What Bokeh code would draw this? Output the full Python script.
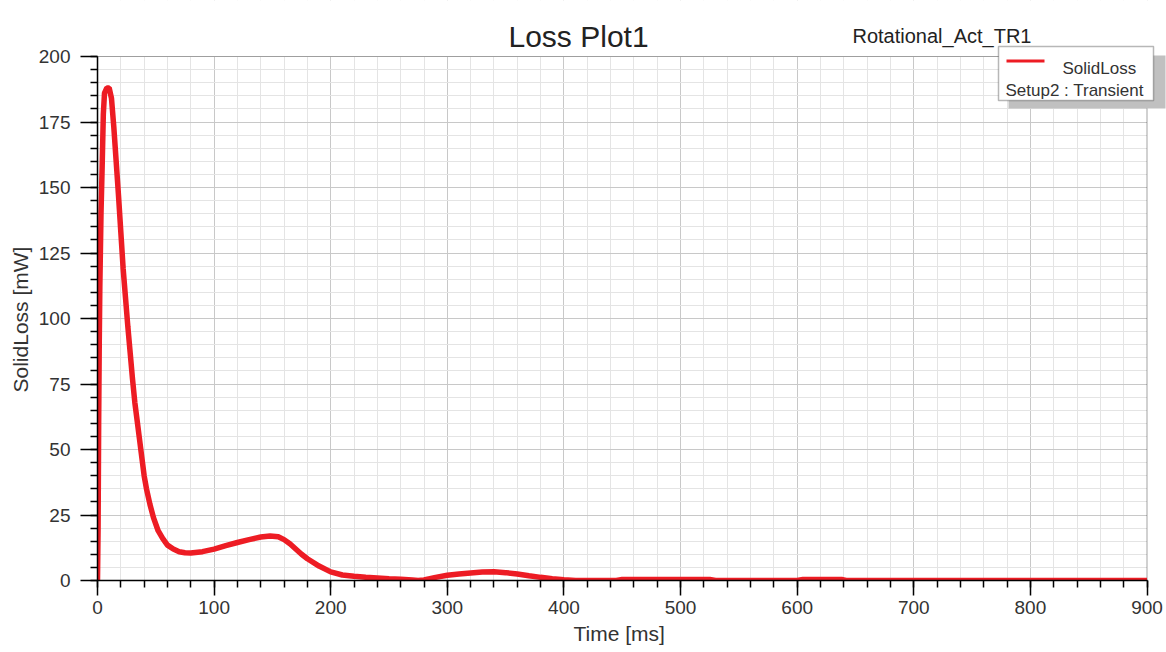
from bokeh.plotting import figure
from bokeh.models import Range1d, SingleIntervalTicker, Label, BoxAnnotation, Title
from bokeh.embed import file_html
from bokeh.resources import INLINE

# ---- data ----
time_ms = [0, 0.5, 1, 1.5, 2, 3, 4, 5, 6, 8,
           10, 12, 14, 16, 18, 20, 22, 24, 26, 28,
           30, 32, 34, 36, 38, 40, 42, 45, 48, 52,
           56, 60, 65, 70, 75, 80, 90, 100, 110, 120,
           130, 140, 148, 155, 160, 165, 170, 175, 180, 190,
           200, 210, 220, 230, 240, 250, 260, 270, 275, 280,
           290, 300, 310, 320, 330, 340, 350, 360, 370, 380,
           390, 400, 410, 445, 450, 525, 530, 600, 605, 638,
           642, 900]
solid_loss = [0, 20, 60, 90, 112, 140, 158, 178, 186, 188,
              188, 184, 173, 160, 147, 133, 119, 108, 97, 87,
              77, 68, 61, 54, 47, 40, 35, 29, 24, 19,
              16, 13.5, 12, 11, 10.6, 10.5, 11, 12, 13.3, 14.5,
              15.6, 16.6, 17, 16.7, 15.6, 14, 12, 10, 8.3, 5.5,
              3.3, 2.1, 1.6, 1.2, 1.0, 0.7, 0.5, 0.2, 0, 0.2,
              1.2, 2.0, 2.5, 2.9, 3.2, 3.3, 3.0, 2.5, 1.8, 1.2,
              0.7, 0.3, 0, 0, 0.4, 0.4, 0, 0, 0.4, 0.4,
              0, 0]

x_min, x_max = 0, 900
y_min, y_max = 0, 200
x_tick_step, y_tick_step = 100, 25

title_text = "Loss Plot1"
subtitle_text = "Rotational_Act_TR1"
x_label = "Time [ms]"
y_label = "SolidLoss [mW]"
legend_series = "SolidLoss"
legend_setup = "Setup2 : Transient"

FONT = "Liberation Sans"
RED = "#ED1C24"

# The plotting area (0..900, 0..200) is 1049.5 x 524 px; the frame is extended
# to the top/right canvas edges so the titles and legend box can sit there.
AREA_W, AREA_H = 1049.5, 524
FRAME_W, FRAME_H = 1069, 580
x_end = x_max * FRAME_W / AREA_W
y_end = y_max * FRAME_H / AREA_H

p = figure(frame_width=FRAME_W, frame_height=FRAME_H,
           min_border=0, min_border_left=97, min_border_right=0,
           min_border_top=0, min_border_bottom=72,
           x_range=Range1d(x_min, x_end), y_range=Range1d(y_min, y_end),
           output_backend="svg", toolbar_location=None,
           background_fill_color="white", border_fill_color="white")

p.outline_line_color = None

xt = SingleIntervalTicker(interval=x_tick_step, num_minor_ticks=5)
yt = SingleIntervalTicker(interval=y_tick_step, num_minor_ticks=5)
p.xaxis.ticker = xt
p.yaxis.ticker = yt
p.xgrid.ticker = xt
p.ygrid.ticker = yt
p.xaxis.bounds = (x_min, x_max)
p.yaxis.bounds = (y_min, y_max)
p.xgrid.bounds = (x_min, x_max)
p.ygrid.bounds = (y_min, y_max)

for g in (p.xgrid, p.ygrid):
    g.grid_line_color = "#c8c8c8"
    g.grid_line_width = 1
    g.minor_grid_line_color = "#e4e4e4"
    g.minor_grid_line_width = 1

for ax in (p.xaxis, p.yaxis):
    ax.axis_line_color = "#000000"
    ax.axis_line_width = 1.5
    ax.major_tick_line_color = "#000000"
    ax.major_tick_line_width = 1.5
    ax.minor_tick_line_color = "#000000"
    ax.minor_tick_line_width = 1.5
    ax.major_tick_in = 0
    ax.minor_tick_in = 0
    ax.minor_tick_out = 7
    ax.major_label_text_font = FONT
    ax.major_label_text_font_size = "19px"
    ax.major_label_text_color = "#333333"

p.xaxis.major_tick_out = 15
p.yaxis.major_tick_out = 17
p.xaxis.major_label_standoff = 5
p.yaxis.major_label_standoff = 10

# axis titles (placed in the side panels, positioned along the visible
# plotting area rather than the extended frame)
p.add_layout(Title(text=x_label, align="left", offset=476, standoff=7,
                   text_font=FONT, text_font_size="21px",
                   text_font_style="normal", text_color="#333333"), "below")
p.add_layout(Title(text=y_label, align="left", offset=188, standoff=7,
                   text_font=FONT, text_font_size="21px",
                   text_font_style="normal", text_color="#333333"), "left")

# white covers for the extended frame region outside the plotting area
p.add_layout(BoxAnnotation(bottom=y_max, fill_color="white", fill_alpha=1.0,
                           line_color=None, level="underlay"))
p.add_layout(BoxAnnotation(left=x_max, fill_color="white", fill_alpha=1.0,
                           line_color=None, level="underlay"))
# plot-area border (top / right edges)
p.add_layout(BoxAnnotation(left=x_min, right=x_max, bottom=y_min, top=y_max,
                           fill_color=None, fill_alpha=0, line_color="#000000",
                           line_width=1.2, level="underlay"))

p.line(time_ms, solid_loss, line_color=RED, line_width=5.5)

# titles
p.add_layout(Label(x=411, y=544, x_units="screen", y_units="screen",
                   text=title_text, text_font=FONT, text_font_size="30px",
                   text_color="#222222", text_baseline="alphabetic"))
p.add_layout(Label(x=755, y=545, x_units="screen", y_units="screen",
                   text=subtitle_text, text_font=FONT, text_font_size="20px",
                   text_color="#222222", text_baseline="alphabetic"))

# legend box with shadow
p.add_layout(BoxAnnotation(left=911, right=1068, top=525, bottom=472,
                           left_units="screen", right_units="screen",
                           top_units="screen", bottom_units="screen",
                           fill_color="#c0c0c0", fill_alpha=1.0, line_color=None))
p.add_layout(BoxAnnotation(left=901, right=1056, top=534, bottom=480,
                           left_units="screen", right_units="screen",
                           top_units="screen", bottom_units="screen",
                           fill_color="white", fill_alpha=1.0,
                           line_color="#111111", line_width=1.5))
p.add_layout(BoxAnnotation(left=909, right=947, top=521, bottom=518,
                           left_units="screen", right_units="screen",
                           top_units="screen", bottom_units="screen",
                           fill_color=RED, fill_alpha=1.0, line_color=None))
p.add_layout(Label(x=965, y=512, x_units="screen", y_units="screen",
                   text=legend_series, text_font=FONT, text_font_size="17px",
                   text_color="#333333", text_baseline="alphabetic"))
p.add_layout(Label(x=908, y=490, x_units="screen", y_units="screen",
                   text=legend_setup, text_font=FONT, text_font_size="17px",
                   text_color="#333333", text_baseline="alphabetic"))

open("out.html", "w").write(file_html(p, INLINE))
